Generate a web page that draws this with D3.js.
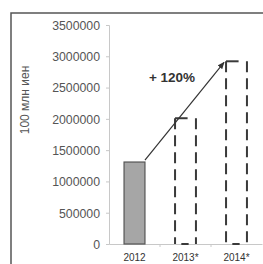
<!DOCTYPE html>
<html><head><meta charset="utf-8">
<script src="https://cdn.jsdelivr.net/npm/d3@7"></script>
<style>body{margin:0;background:#fff}svg{display:block}</style>
</head><body>
<svg id="c" width="263" height="264"></svg>
<script>
const categories = ["2012", "2013*", "2014*"];
const values = [1310000, 2010000, 2920000];
const forecast = [false, true, true];
const yTicks = [0, 500000, 1000000, 1500000, 2000000, 2500000, 3000000, 3500000];
const yLabel = "100 млн иен";
const growthLabel = "+ 120%";

const svg = d3.select("#c");
const x = d3.scaleBand().domain(categories).range([109, 262]).paddingInner(0.59).paddingOuter(0.295);
const y = d3.scaleLinear().domain([0, 3500000]).range([244, 25]);

// frame
svg.append("path").attr("d", "M11,264 L11,13 L263,13").attr("fill", "none")
  .attr("stroke", "#555").attr("stroke-width", 1.5);

// y axis
const ya = svg.append("g").attr("transform", "translate(109,0)")
  .call(d3.axisLeft(y).tickValues(yTicks).tickSize(3).tickPadding(6).tickFormat(d3.format("d")));
ya.select(".domain").attr("stroke", "#c8c8c8");
ya.selectAll(".tick line").attr("stroke", "#c8c8c8");
ya.selectAll("text").attr("fill", "#555").style("font-family", "Liberation Sans, Arial, sans-serif")
  .style("font-size", "12.3px").attr("dy", "0.35em");

// x axis
const xa = svg.append("g").attr("transform", "translate(0,244)")
  .call(d3.axisBottom(x).tickSize(0).tickPadding(11));
xa.select(".domain").attr("stroke", "#c8c8c8");
xa.selectAll("text").attr("fill", "#333").style("font-family", "Liberation Sans, Arial, sans-serif")
  .style("font-size", "10px").attr("dy", "0.6em");
// category boundary ticks
const step = x.step();
svg.append("g").selectAll("line").data(categories.slice(1)).join("line")
  .attr("x1", d => x(d) - step * x.paddingInner() / 2).attr("x2", d => x(d) - step * x.paddingInner() / 2)
  .attr("y1", 244).attr("y2", 247).attr("stroke", "#c8c8c8");

// y label
svg.append("text").attr("transform", "translate(29,100) rotate(-90)")
  .attr("text-anchor", "middle").attr("fill", "#555")
  .style("font-family", "Liberation Sans, Arial, sans-serif").style("font-size", "12px").text(yLabel);

const data = categories.map((c, i) => ({c, v: values[i], f: forecast[i]}));
const bw = x.bandwidth();

// solid bars
svg.selectAll("rect.solid").data(data.filter(d => !d.f)).join("rect").attr("class", "solid")
  .attr("x", d => x(d.c)).attr("y", d => y(d.v)).attr("width", bw).attr("height", d => y(0) - y(d.v))
  .attr("fill", "#a6a6a6").attr("stroke", "#555").attr("stroke-width", 1.2);

// dashed forecast bars
const fg = svg.append("g").selectAll("g").data(data.filter(d => d.f)).join("g");
fg.append("line").attr("x1", d => x(d.c)).attr("x2", d => x(d.c))
  .attr("y1", d => y(d.v)).attr("y2", y(0))
  .attr("stroke", "#3a3a3a").attr("stroke-width", 2).attr("stroke-dasharray", "11,6");
fg.append("line").attr("x1", d => x(d.c) + bw).attr("x2", d => x(d.c) + bw)
  .attr("y1", d => y(d.v)).attr("y2", y(0))
  .attr("stroke", "#3a3a3a").attr("stroke-width", 2).attr("stroke-dasharray", "11,6");
fg.append("line").attr("x1", d => x(d.c)).attr("x2", d => x(d.c) + bw * 0.6)
  .attr("y1", d => y(d.v)).attr("y2", d => y(d.v))
  .attr("stroke", "#3a3a3a").attr("stroke-width", 2);
fg.append("line").attr("x1", d => x(d.c) + bw * 0.3).attr("x2", d => x(d.c) + bw * 0.65)
  .attr("y1", y(0)).attr("y2", y(0))
  .attr("stroke", "#3a3a3a").attr("stroke-width", 2);

// arrow
svg.append("defs").append("marker").attr("id", "ah").attr("viewBox", "0 0 10 10")
  .attr("refX", 9).attr("refY", 5).attr("markerWidth", 6).attr("markerHeight", 6)
  .attr("orient", "auto").append("path").attr("d", "M0,1 L10,5 L0,9 Z").attr("fill", "#333");
const a0 = data[0], a1 = data[2];
svg.append("line")
  .attr("x1", x(a0.c) + bw).attr("y1", y(a0.v) - 2)
  .attr("x2", x(a1.c) - 2).attr("y2", y(a1.v) + 1)
  .attr("stroke", "#333").attr("stroke-width", 1.2).attr("marker-end", "url(#ah)");

svg.append("text").attr("x", 172).attr("y", 82).attr("text-anchor", "middle")
  .attr("fill", "#333").style("font-family", "Liberation Sans, Arial, sans-serif")
  .style("font-size", "13.5px").style("font-weight", "bold").text(growthLabel);
</script>
</body></html>
